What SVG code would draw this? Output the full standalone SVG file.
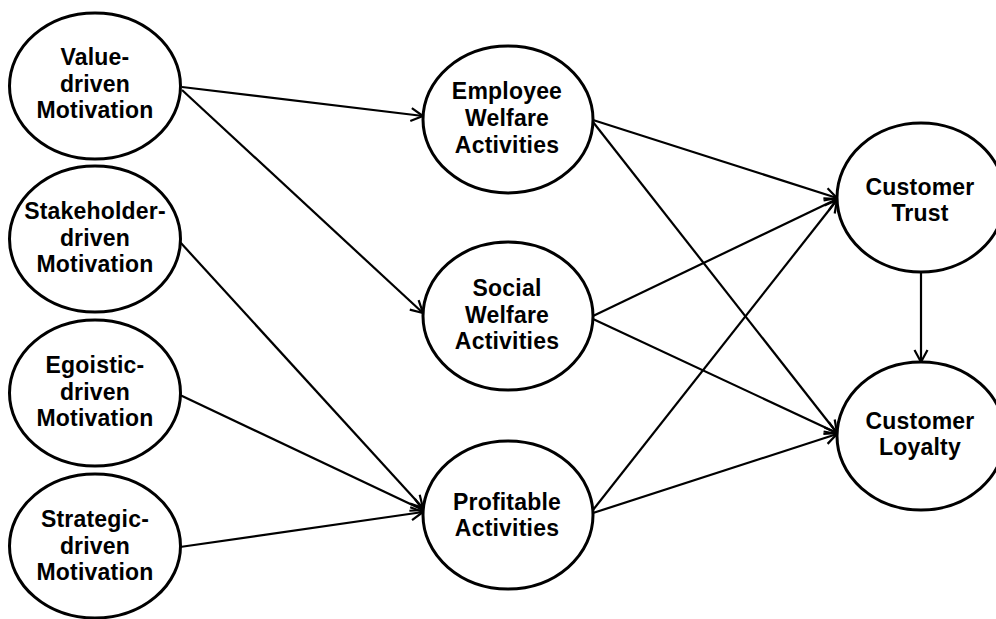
<svg xmlns="http://www.w3.org/2000/svg" width="996" height="619" viewBox="0 0 996 619">
  <style>
    .node ellipse { fill: #ffffff; stroke: #000000; stroke-width: 3; }
    .node text { font-family: "Liberation Sans", Arial, sans-serif; font-weight: bold; font-size: 23px; letter-spacing: 0.2px; fill: #000000; text-anchor: middle; dominant-baseline: central; }
    #connectors line { stroke: #000000; stroke-width: 2.2; fill: none; marker-end: url(#arrow); }
  </style>
  <defs>
    <marker id="arrow" viewBox="-14 -8 16 16" refX="0" refY="0" markerWidth="16" markerHeight="16" markerUnits="userSpaceOnUse" orient="auto">
      <path d="M-12,-6.5 L0,0 L-12,6.5" fill="none" stroke="#000000" stroke-width="2.2" stroke-linejoin="miter"/>
    </marker>
  </defs>
  <rect width="996" height="619" fill="#ffffff"/>

  <!-- connectors -->
  <g id="connectors">
    <line x1="182" y1="87" x2="423" y2="116"/>
    <line x1="182" y1="90" x2="423" y2="313"/>
    <line x1="180" y1="242" x2="423" y2="508"/>
    <line x1="180" y1="395" x2="423" y2="510"/>
    <line x1="180" y1="547" x2="423" y2="512"/>
    <line x1="593" y1="120" x2="837" y2="198"/>
    <line x1="593" y1="122" x2="837" y2="433"/>
    <line x1="593" y1="316" x2="837" y2="199"/>
    <line x1="593" y1="319" x2="837" y2="433"/>
    <line x1="593" y1="510" x2="837" y2="200"/>
    <line x1="593" y1="513" x2="837" y2="434"/>
    <line x1="921" y1="272" x2="921" y2="362"/>
  </g>

  <!-- antecedent motivations -->
  <g id="value-driven" class="node">
    <ellipse cx="95" cy="86" rx="85.5" ry="73"/>
    <text x="95" y="57">Value-</text>
    <text x="95" y="83.5">driven</text>
    <text x="95" y="110">Motivation</text>
  </g>
  <g id="stakeholder-driven" class="node">
    <ellipse cx="95" cy="239" rx="85.5" ry="73"/>
    <text x="95" y="211">Stakeholder-</text>
    <text x="95" y="237.5">driven</text>
    <text x="95" y="264">Motivation</text>
  </g>
  <g id="egoistic-driven" class="node">
    <ellipse cx="95" cy="393" rx="85.5" ry="73"/>
    <text x="95" y="365">Egoistic-</text>
    <text x="95" y="391.5">driven</text>
    <text x="95" y="418">Motivation</text>
  </g>
  <g id="strategic-driven" class="node">
    <ellipse cx="95" cy="546" rx="85.5" ry="72"/>
    <text x="95" y="519">Strategic-</text>
    <text x="95" y="545.5">driven</text>
    <text x="95" y="572">Motivation</text>
  </g>

  <!-- CSR activities -->
  <g id="employee-welfare" class="node">
    <ellipse cx="508" cy="119.5" rx="85" ry="73.5"/>
    <text x="507" y="91">Employee</text>
    <text x="507" y="118">Welfare</text>
    <text x="507" y="145">Activities</text>
  </g>
  <g id="social-welfare" class="node">
    <ellipse cx="508" cy="316" rx="85" ry="74"/>
    <text x="507" y="288">Social</text>
    <text x="507" y="314.5">Welfare</text>
    <text x="507" y="341">Activities</text>
  </g>
  <g id="profitable" class="node">
    <ellipse cx="508" cy="515" rx="85" ry="74"/>
    <text x="507" y="502">Profitable</text>
    <text x="507" y="528">Activities</text>
  </g>

  <!-- outcomes -->
  <g id="customer-trust" class="node">
    <ellipse cx="921" cy="197.5" rx="84" ry="74.5"/>
    <text x="920" y="187">Customer</text>
    <text x="920" y="213">Trust</text>
  </g>
  <g id="customer-loyalty" class="node">
    <ellipse cx="921" cy="436" rx="84" ry="74"/>
    <text x="920" y="421">Customer</text>
    <text x="920" y="447">Loyalty</text>
  </g>
</svg>
